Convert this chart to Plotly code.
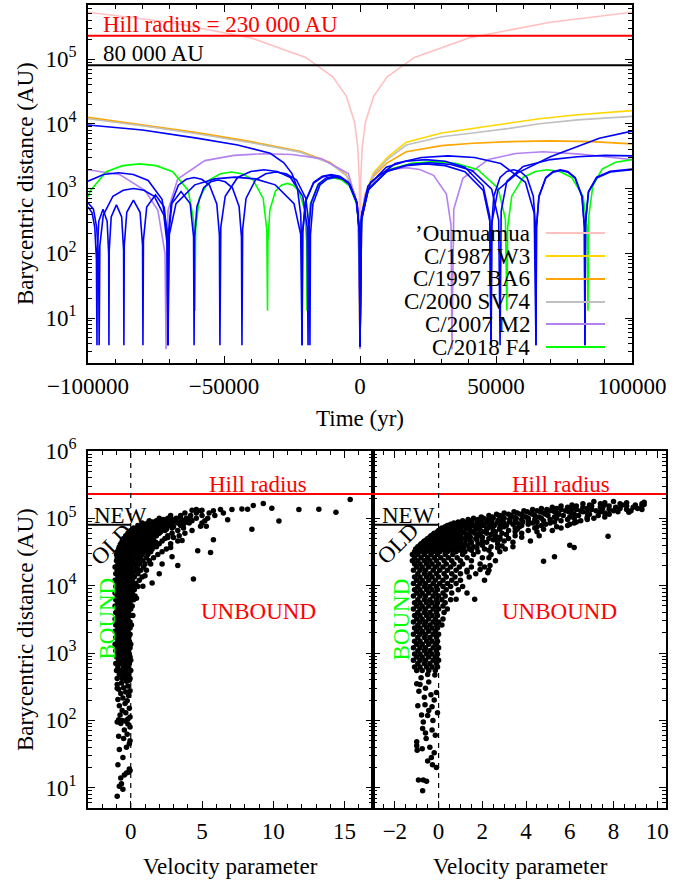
import math
import plotly.graph_objects as go

FONT = "Liberation Serif"
FS = 23
W, H = 691, 881

# ---------------- reference levels ----------------
hill_radius_au = 230000
new_old_limit_au = 80000

# ---------------- top panel: distance vs time ----------------
oumuamua_t = [-100000, -70000, -40000, -20000, -10000, -5000, -2000, -800, -250, 0,
              250, 800, 2000, 5000, 10000, 20000, 40000, 70000, 100000]
oumuamua_r = [530000, 371000, 212000, 106000, 53000, 26500, 10600, 4240, 1330, 3.5,
              1330, 4240, 10600, 26500, 53000, 106000, 212000, 371000, 530000]

w3_t = [-100000, -80000, -60000, -40000, -22000, -11000, -5000, -1800, -600, 0,
        600, 1800, 5000, 10000, 17000, 30000, 41500, 55000, 66000, 80000, 100000]
w3_r = [12200, 9500, 7200, 5200, 3700, 2500, 1600, 800, 350, 4,
        360, 800, 1750, 3000, 5200, 7200, 8500, 10300, 12000, 13800, 16000]

ba6_t = [-100000, -80000, -60000, -40000, -22000, -11000, -5000, -1800, -600, 0,
         600, 1800, 5000, 10000, 17000, 30000, 41500, 55000, 70000, 85000, 100000]
ba6_r = [12600, 9700, 7300, 5300, 3750, 2520, 1610, 805, 350, 4,
         350, 770, 1550, 2500, 3700, 4600, 5000, 5300, 5450, 5300, 4900]

sv74_t = [-100000, -80000, -60000, -40000, -22000, -11000, -5000, -1800, -600, 0,
          600, 1800, 5000, 10000, 17000, 30000, 41500, 55000, 66000, 80000, 100000]
sv74_r = [12000, 9300, 7000, 5100, 3650, 2450, 1580, 790, 345, 4,
          355, 780, 1650, 2800, 4700, 6300, 7200, 8500, 10000, 11500, 13000]

m2_t = [-100000, -88200, -79000, -74300, -71700, -71300,
        -70587, -67022, -57040, -46345, -35650, -24955, -14260, -4278, -713, 0,
        338, 2028, 6760, 11830, 16900, 21970, 27040, 31772, 33462, 33800,
        34470, 37820, 47200, 57250, 67300, 80900, 91900, 100000]
m2_r = [1950, 1630, 930, 460, 100, 3.3,
        460, 1400, 2700, 3250, 3450, 3350, 2900, 1700, 500, 3.3,
        273, 819, 1596, 1974, 2100, 1974, 1596, 819, 273, 3.3,
        480, 1440, 2810, 3480, 3700, 3400, 3050, 2800]

f4_t = [-100000, -99052, -93340, -87220, -81100, -74980, -68860, -63148, -61108, -60700,
        -60433, -59098, -55360, -51355, -47350, -43345, -39340, -35602, -34267, -34000,
        -33855, -33130, -31100, -28925, -26750, -24575, -22400, -20370, -19645, -19500,
        -19305, -18330, -15600, -12675, -9750, -6825, -3900, -1170, -195, 0,
        540, 3240, 10800, 18900, 27000, 35100, 43200, 50760, 53460, 54000,
        54298, 55788, 59960, 64430, 68900, 73370, 77840, 82012, 83502, 83800,
        84100, 85600, 89000, 94000, 100000]
f4_r = [750, 936, 1824, 2256, 2400, 2256, 1824, 936, 312, 13,
        234, 702, 1368, 1692, 1800, 1692, 1368, 702, 234, 13,
        156, 468, 912, 1128, 1200, 1128, 912, 468, 156, 13,
        189, 566, 1102, 1363, 1450, 1363, 1102, 566, 189, 13,
        338, 1014, 1976, 2444, 2600, 2444, 1976, 1014, 338, 13,
        254, 761, 1482, 1833, 1950, 1833, 1482, 761, 254, 13,
        370, 1100, 2000, 2550, 2800]

blue1_t = [-100000, -98500, -97500, -96900, -96700,
           -96612, -96040, -94500, -92960, -92388, -92300,
           -92190, -91475, -89550, -87625, -86910, -86800,
           -86660, -85750, -83300, -80850, -79940, -79800,
           -79616, -78420, -75200, -71980, -70784, -70600,
           -70408, -69160, -65800, -62440, -61192, -61000,
           -60824, -59944, -57480, -54840, -52200, -49560, -46920, -44456, -43576, -43400,
           -43150, -41900, -38400, -34650, -30900, -27150, -23400, -19900, -18650, -18400,
           -18216, -17296, -14720, -11960, -9200, -6440, -3680, -1104, -184, 0,
           647, 3882, 12940, 22645, 32350, 42055, 51760, 60818, 64053, 64700,
           64880, 65780, 68300, 71000, 73700, 76400, 79100, 81620, 82520, 82700,
           82900, 84000, 87000, 92000, 100000]
blue1_r = [520, 420, 250, 80, 3.8,
           96, 312, 480, 312, 96, 3.8,
           112, 364, 560, 364, 112, 3.8,
           132, 429, 660, 429, 132, 3.8,
           160, 520, 800, 520, 160, 3.8,
           180, 585, 900, 585, 180, 3.8,
           176, 527, 1026, 1269, 1350, 1269, 1026, 527, 176, 3.8,
           234, 702, 1368, 1692, 1800, 1692, 1368, 702, 234, 3.8,
           195, 585, 1140, 1410, 1500, 1410, 1140, 585, 195, 3.6,
           416, 1248, 2432, 3008, 3200, 3008, 2432, 1248, 416, 3.8,
           254, 761, 1482, 1833, 1950, 1833, 1482, 761, 254, 3.8,
           300, 900, 1500, 1850, 2000]

blue2_t = [-100000, -94260, -88800, -83340, -77880, -72784, -70964, -70600,
           -70409, -69454, -66780, -63915, -61050, -58185, -55320, -52646, -51691, -51500,
           -51176, -49556, -45020, -40160, -35300, -30440, -25580, -21044, -19424, -19100,
           -18909, -17954, -15280, -12415, -9550, -6685, -3820, -1146, -191, 0,
           515, 3090, 10300, 18025, 25750, 33475, 41200, 48410, 50985, 51500,
           51900, 54000, 60000, 70000, 80000, 90000, 100000]
blue2_r = [1300, 1645, 1750, 1645, 1330, 683, 228, 3.8,
           192, 577, 1125, 1391, 1480, 1391, 1125, 577, 192, 3.8,
           254, 761, 1482, 1833, 1950, 1833, 1482, 761, 254, 3.8,
           202, 605, 1178, 1457, 1550, 1457, 1178, 605, 202, 3.6,
           325, 975, 1900, 2350, 2500, 2350, 1900, 975, 325, 3.8,
           450, 1300, 2200, 2800, 3100, 3250, 3200]

blue3_t = [-100000, -80000, -60000, -45000, -33000, -28000, -25000, -23000, -21800, -21400, -21300,
           -21087, -20022, -17040, -13845, -10650, -7455, -4260, -1278, -213, 0,
           482, 2892, 9640, 16870, 24100, 31330, 38560, 45308, 47718, 48200,
           48500, 50700, 58000, 70000, 88000, 100000]
blue3_r = [9600, 8000, 6000, 4700, 3500, 2500, 1700, 1000, 400, 100, 3.8,
           215, 644, 1254, 1551, 1650, 1551, 1254, 644, 215, 3.6,
           364, 1092, 2128, 2632, 2800, 2632, 2128, 1092, 364, 3.8,
           300, 950, 1750, 3100, 6000, 7700]

blue4_t = [-100000, -98000, -96800, -96100, -95900,
           -95647, -94382, -90840, -87045, -83250, -79455, -75660, -72118, -70853, -70600,
           -70107, -67642, -60740, -53345, -45950, -38555, -31160, -24258, -21793, -21300,
           -21087, -20022, -17040, -13845, -10650, -7455, -4260, -1278, -213, 0,
           482, 2892, 9640, 16870, 24100, 31330, 38560, 45308, 47718, 48200,
           48365, 49190, 51500, 53975, 56450, 58925, 61400, 63710, 64535, 64700,
           64880, 65780, 68300, 71000, 73700, 76400, 79100, 81620, 82520, 82700,
           82900, 84000, 87000, 92000, 100000]
blue4_r = [600, 480, 250, 80, 3.8,
           130, 390, 760, 940, 1000, 940, 760, 390, 130, 3.8,
           195, 585, 1140, 1410, 1500, 1410, 1140, 585, 195, 3.8,
           208, 624, 1216, 1504, 1600, 1504, 1216, 624, 208, 3.6,
           312, 936, 1824, 2256, 2400, 2256, 1824, 936, 312, 3.8,
           254, 761, 1482, 1833, 1950, 1833, 1482, 761, 254, 3.8,
           247, 741, 1444, 1786, 1900, 1786, 1444, 741, 247, 3.8,
           290, 880, 1450, 1800, 1950]

legend_names = ["\u2019Oumuamua", "C/1987 W3", "C/1997 BA6", "C/2000 SV74", "C/2007 M2", "C/2018 F4"]
legend_colors = ["#ffc0c0", "#ffd700", "#ffa500", "#c0c0c0", "#b482f0", "#00ff00"]
blue_color = "#0000ff"

# ---------------- bottom-left panel: velocity parameter vs distance ----------------
left_sparse = [
    [-0.95, 7.5], [-0.8, 10.5], [-0.55, 9.5], [-0.65, 11.5], [-0.7, 14], [-0.45, 15.5],
    [-0.3, 16.5], [-0.05, 18], [-0.1, 19], [-0.15, 17], [-0.9, 22], [-0.55, 28],
    [-0.8, 37], [-0.3, 40], [-0.1, 45], [-0.85, 58], [-0.5, 54], [-0.25, 62],
    [-0.05, 50], [-0.45, 72], [-0.95, 95], [-0.85, 102], [-0.7, 90], [-0.2, 105],
    [-0.05, 112], [-0.35, 130], [-0.6, 140], [-0.1, 152], [-0.8, 165], [-0.4, 178],
    [-0.25, 195], [-0.9, 205], [-0.55, 215], [-0.15, 235], [-0.7, 250], [-0.35, 265],
    [-0.05, 275], [-0.85, 290], [-0.5, 305], [-0.2, 325], [-0.95, 340], [-0.65, 360],
    [-0.3, 380], [-0.1, 395], [-0.75, 120], [-0.6, 100], [-0.4, 98], [-0.2, 88],
    [-0.05, 80], [-0.95, 300]]

left_column_rows = [
    [420, [-0.95, -0.6, -0.3, -0.05]], [480, [-0.8, -0.45, -0.15]],
    [550, [-1.0, -0.65, -0.35, 0.0]], [620, [-0.9, -0.5, -0.2]],
    [700, [-1.05, -0.75, -0.4, -0.1]], [780, [-0.85, -0.55, -0.25, 0.0]],
    [870, [-1.0, -0.7, -0.35, -0.05]], [970, [-0.9, -0.6, -0.3, -0.1]],
    [1080, [-1.05, -0.8, -0.45, -0.15]], [1200, [-0.95, -0.65, -0.3, -0.05]],
    [1350, [-1.1, -0.8, -0.5, -0.2, 0.0]], [1500, [-0.9, -0.6, -0.35, -0.1]],
    [1700, [-1.05, -0.75, -0.45, -0.15]], [1900, [-0.95, -0.65, -0.3, -0.05]],
    [2100, [-1.1, -0.8, -0.5, -0.2]], [2350, [-0.9, -0.6, -0.35, -0.05]],
    [2600, [-1.05, -0.75, -0.45, -0.15, 0.05]], [2900, [-0.95, -0.65, -0.3, -0.05]],
    [3200, [-1.1, -0.8, -0.5, -0.2]], [3600, [-0.9, -0.6, -0.35, -0.05, 0.15]],
    [4000, [-1.05, -0.75, -0.45, -0.15]], [4500, [-0.95, -0.65, -0.3, 0.0]],
    [5000, [-1.1, -0.8, -0.5, -0.2, 0.1]], [5600, [-0.9, -0.6, -0.35, -0.05]],
    [6200, [-1.05, -0.75, -0.45, -0.15, 0.2]], [7000, [-0.95, -0.65, -0.3, 0.0, 0.3]],
    [7800, [-1.1, -0.8, -0.5, -0.2, 0.1]], [8700, [-0.9, -0.6, -0.35, -0.05, 0.25]],
    [9700, [-1.05, -0.75, -0.45, -0.15, 0.15, 0.5]], [10800, [-0.95, -0.65, -0.3, 0.0, 0.35]],
    [12000, [-1.1, -0.8, -0.5, -0.2, 0.1, 0.6]], [13500, [-0.9, -0.6, -0.35, -0.05, 0.25, 0.8]],
    [15000, [-1.05, -0.75, -0.45, -0.15, 0.15, 0.5]],
    [17000, [-0.95, -0.65, -0.3, 0.0, 0.35, 0.7, 1.1]],
    [19000, [-1.1, -0.8, -0.5, -0.2, 0.1, 0.45, 0.9]],
    [21000, [-0.9, -0.6, -0.35, -0.05, 0.25, 0.6, 1.0, 1.4]],
    [23500, [-1.0, -0.75, -0.45, -0.15, 0.15, 0.5, 0.85, 1.3]],
    [26000, [-0.95, -0.65, -0.3, 0.0, 0.35, 0.7, 1.1, 1.6]],
    [29000, [-1.0, -0.8, -0.5, -0.2, 0.1, 0.45, 0.8, 1.2, 1.9]]]

left_band_rows = [
    [32000, [-0.95, -0.7, -0.4, -0.1, 0.2, 0.55, 0.9, 1.4, 2.2]],
    [33500, [-0.85, -0.55, -0.25, 0.05, 0.4, 0.75, 1.15]],
    [35000, [-0.85, -0.6, -0.3, 0.0, 0.3, 0.65, 1.0, 1.5, 2.5]],
    [36500, [-0.75, -0.45, -0.15, 0.15, 0.5, 0.85, 1.3]],
    [38000, [-0.8, -0.5, -0.2, 0.1, 0.4, 0.8, 1.2, 1.8]],
    [40000, [-0.65, -0.35, -0.05, 0.3, 0.65, 1.05, 1.55]],
    [42000, [-0.7, -0.4, -0.1, 0.2, 0.5, 0.9, 1.3, 2.0, 2.8]],
    [44000, [-0.5, -0.2, 0.1, 0.45, 0.8, 1.2, 1.75]],
    [46000, [-0.6, -0.3, 0.0, 0.3, 0.6, 1.0, 1.5, 2.2, 3.3]],
    [48000, [-0.4, -0.1, 0.25, 0.6, 0.95, 1.35]],
    [50000, [-0.5, -0.2, 0.1, 0.4, 0.75, 1.1, 1.6, 2.4]],
    [52500, [-0.25, 0.05, 0.4, 0.75, 1.15, 1.6]],
    [55000, [-0.35, -0.05, 0.25, 0.55, 0.9, 1.3, 1.8, 2.6, 3.4]],
    [57500, [-0.1, 0.25, 0.55, 0.9, 1.3, 1.75]],
    [60000, [-0.2, 0.1, 0.4, 0.7, 1.05, 1.5, 2.0, 2.9]],
    [63000, [0.1, 0.45, 0.8, 1.15, 1.6, 2.1]],
    [66000, [0.0, 0.3, 0.6, 0.95, 1.3, 1.8, 2.4, 3.3, 4.3]],
    [69000, [0.35, 0.7, 1.05, 1.45, 1.95, 2.5]],
    [72000, [0.2, 0.55, 0.9, 1.25, 1.7, 2.2, 2.9, 3.7]],
    [75000, [0.65, 1.0, 1.4, 1.85, 2.4, 3.0]],
    [78000, [0.5, 0.85, 1.2, 1.6, 2.1, 2.7, 3.5]],
    [81500, [1.0, 1.4, 1.85, 2.35, 2.9, 3.7]],
    [85000, [0.8, 1.2, 1.6, 2.1, 2.6, 3.3, 4.1, 5.0]],
    [88500, [1.55, 2.05, 2.6, 3.2, 3.9]],
    [92000, [1.3, 1.8, 2.3, 2.9, 3.6, 4.3, 5.2]],
    [96000, [2.3, 2.9, 3.55, 4.2]],
    [100000, [2.0, 2.6, 3.2, 3.9, 4.6, 5.4]],
    [110000, [2.8, 3.5, 4.2, 5.0, 5.9]],
    [120000, [3.8, 4.6, 5.5, 6.5]],
    [130000, [4.9, 5.8]]]

left_outliers = [
    [4.3, 132000], [4.6, 135000], [5.0, 132000], [6.3, 135000], [7.1, 135000],
    [7.8, 138000], [8.2, 136000], [8.6, 155000], [9.3, 166000], [9.9, 141000],
    [11.8, 135000], [13.2, 137000], [14.4, 123000], [15.4, 190000], [6.8, 95000],
    [8.5, 69000], [10.4, 91000], [4.7, 33000], [5.6, 31000], [5.8, 48000],
    [4.4, 12600], [3.3, 20000], [2.2, 21000], [2.9, 27000], [1.5, 11000],
    [0.4, 6500], [0.85, 9800], [3.6, 47000], [4.9, 76000], [5.3, 76000],
    [3.0, 52000], [2.6, 52000], [2.8, 37000], [2.0, 15000], [1.0, 14000],
    [3.8, 60000]]

# ---------------- bottom-right panel ----------------
right_sparse = [
    [-0.73, 9], [-0.92, 13], [-0.7, 13], [-0.55, 12.5], [-1.0, 42], [-0.98, 36],
    [-0.75, 38], [-0.4, 40], [-0.33, 28], [-0.5, 25], [-0.28, 22], [-0.57, 54],
    [-0.73, 76], [-0.3, 72], [-0.26, 100], [-0.78, 120], [-0.5, 118], [-0.62, 170],
    [-0.3, 160], [-0.95, 165], [-0.15, 60], [-0.1, 20], [-0.2, 33], [-1.0, 350],
    [-0.85, 340], [-0.6, 300], [-0.45, 370], [-0.17, 470], [-0.5, 480], [-0.8, 430],
    [-0.35, 240], [-0.65, 220], [-0.1, 260], [-0.9, 270], [-0.45, 140], [-0.2, 200],
    [-0.7, 95], [-0.05, 130], [-1.0, 48], [-0.6, 65]]

right_column_rows = [
    [550, [-1.0, -0.75, -0.45, -0.15]], [620, [-1.1, -0.85, -0.55, -0.3, -0.05]],
    [700, [-0.95, -0.65, -0.4, -0.1]], [780, [-1.15, -0.85, -0.6, -0.25, 0.0]],
    [870, [-1.0, -0.75, -0.45, -0.15]], [970, [-1.1, -0.85, -0.55, -0.3, -0.05]],
    [1080, [-0.95, -0.65, -0.4, -0.1]], [1200, [-1.15, -0.85, -0.6, -0.25, 0.0]],
    [1350, [-1.0, -0.75, -0.45, -0.15]], [1500, [-1.1, -0.85, -0.55, -0.3, -0.05]],
    [1700, [-0.95, -0.65, -0.4, -0.1]], [1900, [-1.15, -0.85, -0.6, -0.25, 0.0]],
    [2100, [-1.0, -0.75, -0.45, -0.15]], [2350, [-1.1, -0.85, -0.55, -0.3, -0.05]],
    [2600, [-0.95, -0.65, -0.4, -0.1, 0.15]], [2900, [-1.15, -0.85, -0.6, -0.25, 0.0]],
    [3200, [-1.0, -0.75, -0.45, -0.15, 0.2]], [3600, [-1.1, -0.85, -0.55, -0.3, -0.05]],
    [4000, [-0.95, -0.65, -0.4, -0.1, 0.25]], [4500, [-1.15, -0.85, -0.6, -0.25, 0.0, 0.4]],
    [5000, [-1.0, -0.75, -0.45, -0.15, 0.2]], [5600, [-1.1, -0.85, -0.55, -0.3, -0.05, 0.3]],
    [6200, [-0.95, -0.65, -0.4, -0.1, 0.15, 0.55]], [7000, [-1.15, -0.85, -0.6, -0.25, 0.0, 0.3]],
    [7800, [-1.0, -0.75, -0.45, -0.15, 0.2, 0.6, 1.3]],
    [8700, [-1.1, -0.85, -0.55, -0.3, -0.05, 0.35, 0.9]],
    [9700, [-0.95, -0.65, -0.4, -0.1, 0.2, 0.55, 1.1]],
    [10800, [-1.15, -0.85, -0.6, -0.25, 0.05, 0.4, 0.8]],
    [12000, [-1.0, -0.75, -0.45, -0.15, 0.2, 0.6, 1.0, 2.1]],
    [13500, [-1.1, -0.85, -0.55, -0.3, 0.0, 0.35, 0.75, 1.4]],
    [15000, [-0.95, -0.65, -0.4, -0.1, 0.25, 0.6, 1.0, 1.7]],
    [17000, [-1.15, -0.85, -0.6, -0.25, 0.05, 0.4, 0.8, 1.3, 2.3]],
    [19000, [-1.0, -0.75, -0.45, -0.15, 0.2, 0.55, 0.95, 1.5]],
    [21000, [-1.1, -0.85, -0.55, -0.3, 0.0, 0.35, 0.7, 1.1, 1.9]],
    [23500, [-1.2, -0.95, -0.65, -0.4, -0.1, 0.25, 0.6, 1.0, 1.5, 2.6]],
    [26000, [-1.1, -0.8, -0.5, -0.2, 0.1, 0.45, 0.85, 1.3, 2.0]],
    [29000, [-1.2, -0.95, -0.65, -0.35, -0.05, 0.3, 0.65, 1.1, 1.6, 2.4]]]

right_band_rows = [
    [32000, [-1.1, -0.85, -0.55, -0.25, 0.05, 0.4, 0.8, 1.2, 1.8, 2.8]],
    [33500, [-0.95, -0.7, -0.4, -0.1, 0.25, 0.6, 1.0, 1.5, 2.3]],
    [35000, [-1.05, -0.75, -0.45, -0.15, 0.15, 0.5, 0.9, 1.4, 2.1]],
    [36500, [-0.9, -0.6, -0.3, 0.0, 0.35, 0.7, 1.15, 1.75, 2.7]],
    [38000, [-0.95, -0.65, -0.35, -0.05, 0.3, 0.65, 1.05, 1.6, 2.4, 3.4]],
    [40000, [-0.85, -0.55, -0.25, 0.1, 0.45, 0.85, 1.35, 2.0]],
    [42000, [-0.8, -0.5, -0.2, 0.1, 0.45, 0.8, 1.2, 1.8, 2.7]],
    [44000, [-0.7, -0.4, -0.1, 0.25, 0.6, 1.0, 1.5, 2.2, 3.4]],
    [46000, [-0.65, -0.35, -0.05, 0.25, 0.6, 1.0, 1.45, 2.0, 3.0, 4.2]],
    [48000, [-0.55, -0.25, 0.1, 0.45, 0.8, 1.25, 1.75, 2.5]],
    [50000, [-0.5, -0.2, 0.1, 0.45, 0.8, 1.2, 1.7, 2.3, 3.2]],
    [52500, [-0.4, -0.1, 0.25, 0.6, 1.0, 1.45, 2.0, 2.8, 3.8]],
    [55000, [-0.35, -0.05, 0.3, 0.65, 1.0, 1.4, 1.9, 2.6, 3.5, 4.6]],
    [57500, [-0.25, 0.1, 0.45, 0.85, 1.3, 1.8, 2.4, 3.1]],
    [60000, [-0.2, 0.1, 0.45, 0.8, 1.2, 1.65, 2.2, 2.9, 3.8]],
    [63000, [-0.05, 0.3, 0.65, 1.05, 1.5, 2.0, 2.6, 3.5, 4.5]],
    [66000, [0.0, 0.3, 0.65, 1.0, 1.45, 1.9, 2.5, 3.2, 4.1, 5.2]],
    [69000, [0.1, 0.45, 0.85, 1.25, 1.7, 2.2, 2.8, 3.6, 4.8]],
    [72000, [0.15, 0.5, 0.9, 1.3, 1.75, 2.25, 2.8, 3.5, 4.4, 5.6]],
    [75000, [0.3, 0.7, 1.05, 1.45, 1.9, 2.4, 3.0, 3.7, 4.5, 5.4]],
    [78000, [0.4, 0.8, 1.2, 1.6, 2.05, 2.55, 3.1, 3.8, 4.7, 5.9]],
    [81500, [0.55, 0.95, 1.35, 1.8, 2.3, 2.8, 3.4, 4.1, 4.9, 6.0]],
    [85000, [0.7, 1.1, 1.5, 1.95, 2.45, 3.0, 3.6, 4.3, 5.1, 6.2]],
    [88500, [0.9, 1.3, 1.75, 2.2, 2.7, 3.25, 3.85, 4.5, 5.3, 6.3]],
    [92000, [1.1, 1.5, 1.95, 2.4, 2.9, 3.5, 4.1, 4.8, 5.6, 6.5]],
    [96000, [1.35, 1.8, 2.25, 2.75, 3.25, 3.8, 4.4, 5.1, 5.9, 6.8]],
    [100000, [1.6, 2.05, 2.5, 3.0, 3.55, 4.1, 4.7, 5.4, 6.2, 7.1]],
    [105000, [1.95, 2.45, 2.95, 3.45, 4.0, 4.6, 5.3, 6.0, 6.8, 7.6]],
    [110000, [2.3, 2.8, 3.3, 3.85, 4.4, 5.0, 5.7, 6.4, 7.3]],
    [115000, [2.65, 3.2, 3.75, 4.3, 4.9, 5.5, 6.2, 6.9, 7.8]],
    [120000, [3.0, 3.6, 4.2, 4.8, 5.4, 6.1, 6.8, 7.6]],
    [125000, [3.45, 4.05, 4.65, 5.3, 5.95, 6.6, 7.4, 8.2]],
    [130000, [3.9, 4.5, 5.1, 5.8, 6.5, 7.2, 8.0, 8.8]],
    [135000, [4.3, 4.95, 5.6, 6.3, 7.0, 7.8, 8.6, 9.3]],
    [140000, [4.7, 5.4, 6.1, 6.8, 7.5, 8.3, 9.1]],
    [146000, [5.2, 5.9, 6.6, 7.4, 8.1, 8.9]],
    [152000, [5.6, 6.3, 7.0, 7.8, 8.6, 9.3]],
    [158000, [6.1, 6.9, 7.6, 8.4, 9.0]],
    [165000, [6.6, 7.4, 8.3, 9.3]],
    [171000, [7.6, 8.6]],
    [178000, [7.1, 8.0]]]

right_outliers = [
    [1.65, 6300], [0.8, 6300], [4.8, 23000], [5.3, 27000], [6.0, 40000], [6.2, 37000],
    [7.75, 54000], [6.8, 100000], [8.7, 123000], [9.4, 174000], [9.4, 160000],
    [2.25, 15500], [1.9, 17400], [1.3, 16000], [2.1, 19000], [2.35, 20000],
    [2.3, 26000], [2.9, 39000], [3.05, 35000], [2.8, 49000], [2.6, 48000]]

# axis tick labels
time_tick_vals = [-100000, -50000, 0, 50000, 100000]
time_tick_text = ["\u2212100000", "\u221250000", "0", "50000", "100000"]
y_tick_vals_top = [10, 100, 1000, 10000, 100000]
y_tick_text_top = ["10<sup>1</sup>", "10<sup>2</sup>", "10<sup>3</sup>", "10<sup>4</sup>", "10<sup>5</sup>"]
y_tick_vals_bottom = [10, 100, 1000, 10000, 100000, 1000000]
y_tick_text_bottom = ["10<sup>1</sup>", "10<sup>2</sup>", "10<sup>3</sup>", "10<sup>4</sup>",
                      "10<sup>5</sup>", "10<sup>6</sup>"]


def flatten(point_pairs, rows):
    vs = [p[0] for p in point_pairs]
    rs = [p[1] for p in point_pairs]
    for r, vlist in rows:
        for v in vlist:
            vs.append(v)
            rs.append(r)
    return vs, rs


fig = go.Figure()

curves = [
    (oumuamua_t, oumuamua_r, legend_colors[0], legend_names[0]),
    (w3_t, w3_r, legend_colors[1], legend_names[1]),
    (ba6_t, ba6_r, legend_colors[2], legend_names[2]),
    (sv74_t, sv74_r, legend_colors[3], legend_names[3]),
    (m2_t, m2_r, legend_colors[4], legend_names[4]),
    (f4_t, f4_r, legend_colors[5], legend_names[5]),
    (blue1_t, blue1_r, blue_color, "other 1"),
    (blue2_t, blue2_r, blue_color, "other 2"),
    (blue3_t, blue3_r, blue_color, "other 3"),
    (blue4_t, blue4_r, blue_color, "other 4"),
]
for t, r, col, name in curves:
    assert len(t) == len(r), name
    fig.add_trace(go.Scatter(x=t, y=r, mode="lines", name=name, showlegend=False,
                             line=dict(color=col, width=1.6), xaxis="x", yaxis="y",
                             hoverinfo="skip"))

lv, lr = flatten(left_sparse + left_outliers, left_column_rows + left_band_rows)
rv, rr = flatten(right_sparse + right_outliers, right_column_rows + right_band_rows)
fig.add_trace(go.Scatter(x=lv, y=lr, mode="markers", showlegend=False, xaxis="x2", yaxis="y2",
                         marker=dict(color="black", size=5.5, line=dict(width=0))))
fig.add_trace(go.Scatter(x=rv, y=rr, mode="markers", showlegend=False, xaxis="x3", yaxis="y3",
                         marker=dict(color="black", size=5.5, line=dict(width=0))))


def px(x):
    return x / W


def py(y):
    return 1 - y / H


tickfont = dict(family=FONT, size=FS, color="black")
minor_log = dict(ticks="inside", ticklen=4, tickcolor="black", tickwidth=1,
                 tickmode="array",
                 tickvals=[m * 10 ** k for k in range(0, 7) for m in range(2, 10)])
common = dict(showline=True, linecolor="black", linewidth=1.6, mirror="ticks",
              ticks="inside", ticklen=7, tickwidth=1.3, tickcolor="black",
              showgrid=False, zeroline=False, tickfont=tickfont, automargin=False)

x_dom_top = [px(88), px(632)]
y_dom_top = [py(363), py(5)]
x_dom_bl = [px(88), px(373)]
x_dom_br = [px(373), px(666)]
y_dom_bot = [py(808), py(451)]

fig.update_layout(
    width=W, height=H, autosize=False,
    margin=dict(l=0, r=0, t=0, b=0, pad=0),
    paper_bgcolor="white", plot_bgcolor="white",
    font=dict(family=FONT, size=FS, color="black"),
    xaxis=dict(common, domain=x_dom_top, anchor="y", range=[-100000, 100000],
               tickmode="array", tickvals=time_tick_vals, ticktext=time_tick_text,
               minor=dict(ticks="inside", ticklen=4, tickcolor="black", tickmode="linear",
                          tick0=0, dtick=10000),
               ticklabelstandoff=2),
    yaxis=dict(common, domain=y_dom_top, anchor="x", type="log", range=[0.305, 5.835],
               tickmode="array", tickvals=y_tick_vals_top, ticktext=y_tick_text_top,
               minor=minor_log, ticklabelstandoff=5),
    xaxis2=dict(common, domain=x_dom_bl, anchor="y2", range=[-3, 17],
                tickmode="linear", tick0=0, dtick=5,
                minor=dict(ticks="inside", ticklen=4, tickcolor="black", dtick=1),
                ticklabelstandoff=2),
    yaxis2=dict(common, domain=y_dom_bot, anchor="x2", type="log", range=[math.log10(5), 6.0],
                tickmode="array", tickvals=y_tick_vals_bottom, ticktext=y_tick_text_bottom,
                minor=minor_log, ticklabelstandoff=5),
    xaxis3=dict(common, domain=x_dom_br, anchor="y3", range=[-3, 10.4],
                tickmode="linear", tick0=0, dtick=2,
                minor=dict(ticks="inside", ticklen=4, tickcolor="black", dtick=0.5),
                ticklabelstandoff=2),
    yaxis3=dict(common, domain=y_dom_bot, anchor="x3", type="log", range=[math.log10(5), 6.0],
                tickmode="array", tickvals=y_tick_vals_bottom, ticktext=y_tick_text_bottom,
                showticklabels=False, minor=minor_log),
)

shapes = []
# top panel reference lines
shapes.append(dict(type="line", xref="x domain", yref="y", x0=0, x1=1,
                   y0=hill_radius_au, y1=hill_radius_au, line=dict(color="red", width=2)))
shapes.append(dict(type="line", xref="x domain", yref="y", x0=0, x1=1,
                   y0=new_old_limit_au, y1=new_old_limit_au, line=dict(color="black", width=2)))
# bottom panels reference lines
for xa, ya, xmin in (("x2", "y2", -3), ("x3", "y3", -3)):
    shapes.append(dict(type="line", xref=xa + " domain", yref=ya, x0=0, x1=1,
                       y0=hill_radius_au, y1=hill_radius_au, line=dict(color="red", width=2)))
    shapes.append(dict(type="line", xref=xa, yref=ya, x0=xmin, x1=0,
                       y0=new_old_limit_au, y1=new_old_limit_au, line=dict(color="black", width=2)))
    shapes.append(dict(type="line", xref=xa, yref=ya + " domain", x0=0, x1=0, y0=0, y1=1,
                       line=dict(color="black", width=1.2, dash="5px,5px")))

# legend (gnuplot style: text then sample)
legend_py = [233, 256, 279, 302, 324, 347]
annotations = []
for name, col, yy in zip(legend_names, legend_colors, legend_py):
    annotations.append(dict(xref="paper", yref="paper", x=px(532), y=py(yy), text=name,
                            showarrow=False, xanchor="right", yanchor="middle",
                            font=dict(family=FONT, size=FS, color="black")))
    shapes.append(dict(type="line", xref="paper", yref="paper", x0=px(546), x1=px(605),
                       y0=py(yy), y1=py(yy), line=dict(color=col, width=2)))

fig.update_layout(shapes=shapes)


def label(x, y, text, color="black", angle=0, xanchor="center"):
    return dict(xref="paper", yref="paper", x=px(x), y=py(y), text=text, showarrow=False,
                textangle=angle, xanchor=xanchor, yanchor="middle",
                font=dict(family=FONT, size=FS, color=color))


# texts on the top panel
annotations.append(label(101, 24, "Hill radius = 230 000 AU", "red", 0, "left"))
annotations.append(label(101, 54, "80 000 AU", "black", 0, "left"))
# axis titles
annotations.append(label(25, 184, "Barycentric distance (AU)", angle=-90))
annotations.append(label(25, 630, "Barycentric distance (AU)", angle=-90))
annotations.append(label(360, 418, "Time (yr)"))
annotations.append(label(230, 866, "Velocity parameter"))
annotations.append(label(520, 866, "Velocity parameter"))

# region labels on the bottom panels (annotation y in log10 units on log axes)
panel_labels = [
    # xaxis, yaxis, text, v, r, color, angle, xanchor
    ("x2", "y2", "Hill radius", 8.9, 320000, "red", 0, "center"),
    ("x2", "y2", "NEW", -2.74, 110000, "black", 0, "left"),
    ("x2", "y2", "OLD", -1.35, 41000, "black", -45, "center"),
    ("x2", "y2", "BOUND", -1.7, 3200, "#00ff00", -90, "center"),
    ("x2", "y2", "UNBOUND", 8.93, 4100, "red", 0, "center"),
    ("x3", "y3", "Hill radius", 5.62, 320000, "red", 0, "center"),
    ("x3", "y3", "NEW", -2.7, 110000, "black", 0, "left"),
    ("x3", "y3", "OLD", -1.87, 43000, "black", -45, "center"),
    ("x3", "y3", "BOUND", -1.7, 3200, "#00ff00", -90, "center"),
    ("x3", "y3", "UNBOUND", 5.53, 4100, "red", 0, "center"),
]
for xa, ya, text, v, r, col, ang, xanc in panel_labels:
    annotations.append(dict(xref=xa, yref=ya, x=v, y=math.log10(r), text=text,
                            showarrow=False, textangle=ang, xanchor=xanc, yanchor="middle",
                            font=dict(family=FONT, size=FS, color=col)))

fig.update_layout(annotations=annotations)

fig.write_html("out.html",
               config={"displayModeBar": False},
               post_script="document.body.style.margin='0';document.body.style.padding='0';")
